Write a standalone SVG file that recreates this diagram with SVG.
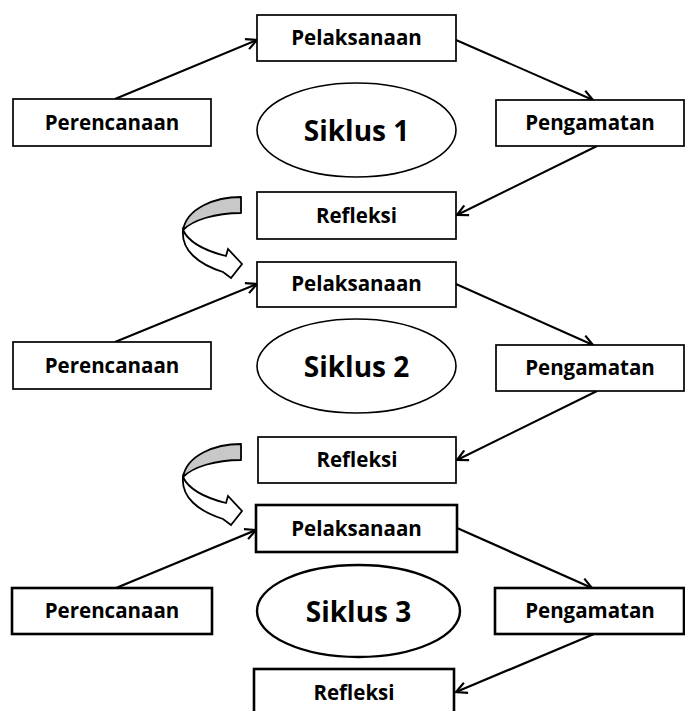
<svg xmlns="http://www.w3.org/2000/svg" width="685" height="711" viewBox="0 0 685 711">
<style>
.bx{fill:#fff;stroke:#000;stroke-width:1.7}
.bx3{fill:#fff;stroke:#000;stroke-width:2.6}
.el{fill:#fff;stroke:#000;stroke-width:1.6}
.el3{fill:#fff;stroke:#000;stroke-width:2.4}
.t{font-family:"Open Sans","Liberation Sans",sans-serif;font-weight:bold;font-size:20.5px;fill:#000;text-anchor:middle}
.ts{font-family:"Open Sans","Liberation Sans",sans-serif;font-weight:bold;font-size:28px;fill:#000;text-anchor:middle}
.ln{fill:none;stroke:#000;stroke-width:2;marker-end:url(#ah)}
.ln3{fill:none;stroke:#000;stroke-width:2.3;marker-end:url(#ah)}
.cg{fill:#c8c8c8;stroke:#000;stroke-width:1.8;stroke-linejoin:round}
.cw{fill:#fff;stroke:#000;stroke-width:1.8;stroke-linejoin:miter}
</style>
<defs>
<marker id="ah" viewBox="0 0 12 12" refX="11" refY="6" markerWidth="13" markerHeight="13" markerUnits="userSpaceOnUse" orient="auto">
<path d="M1,1 L11,6 L1,11" fill="none" stroke="#000" stroke-width="2"/>
</marker>
<g id="curve">
<path class="cg" d="M241,197 C215,197 187,208 183,230 C193,220 215,213 241,213 Z"/>
<path class="cw" d="M183,230 C181,250 198,264 223,272 L231,278 L242,264 L228,249 L226,256 C206,251 189,243 183,230 Z"/>
</g>
</defs>

<g id="connectors">
<line class="ln" x1="115" y1="99" x2="257" y2="40"/>
<line class="ln" x1="456" y1="40" x2="593" y2="100"/>
<line class="ln" x1="597" y1="146" x2="457" y2="215"/>
<line class="ln" x1="115" y1="342" x2="257" y2="284"/>
<line class="ln" x1="456" y1="284" x2="593" y2="345"/>
<line class="ln" x1="597" y1="391" x2="457" y2="460"/>
<line class="ln3" x1="116" y1="588" x2="256" y2="530"/>
<line class="ln3" x1="457" y1="528" x2="592" y2="588"/>
<line class="ln3" x1="594" y1="634" x2="456" y2="692"/>
</g>

<g id="curve1"><use href="#curve"/></g>
<g id="curve2"><use href="#curve" transform="translate(0,247)"/></g>

<g id="pelaksanaan1"><rect class="bx" x="257" y="15" width="199" height="46"/><text class="t" x="356.5" y="45">Pelaksanaan</text></g>
<g id="perencanaan1"><rect class="bx" x="13" y="99" width="198" height="47"/><text class="t" x="112" y="130">Perencanaan</text></g>
<g id="siklus1"><ellipse class="el" cx="356.5" cy="130" rx="99.5" ry="47"/><text class="ts" x="356.5" y="141">Siklus 1</text></g>
<g id="pengamatan1"><rect class="bx" x="496" y="100" width="188" height="46"/><text class="t" x="590" y="130">Pengamatan</text></g>
<g id="refleksi1"><rect class="bx" x="257" y="192" width="199" height="47"/><text class="t" x="356.5" y="223">Refleksi</text></g>

<g id="pelaksanaan2"><rect class="bx" x="257" y="262" width="199" height="45"/><text class="t" x="356.5" y="291">Pelaksanaan</text></g>
<g id="perencanaan2"><rect class="bx" x="13" y="342" width="198" height="47"/><text class="t" x="112" y="373">Perencanaan</text></g>
<g id="siklus2"><ellipse class="el" cx="356.5" cy="366" rx="99.5" ry="47"/><text class="ts" x="356.5" y="377">Siklus 2</text></g>
<g id="pengamatan2"><rect class="bx" x="496" y="345" width="188" height="46"/><text class="t" x="590" y="375">Pengamatan</text></g>
<g id="refleksi2"><rect class="bx" x="258" y="437" width="198" height="46"/><text class="t" x="357" y="467">Refleksi</text></g>

<g id="pelaksanaan3"><rect class="bx3" x="256" y="505" width="201" height="47"/><text class="t" x="356.5" y="536">Pelaksanaan</text></g>
<g id="perencanaan3"><rect class="bx3" x="12" y="588" width="200" height="46"/><text class="t" x="112" y="618">Perencanaan</text></g>
<g id="siklus3"><ellipse class="el3" cx="358.5" cy="611" rx="101.5" ry="46"/><text class="ts" x="358.5" y="622">Siklus 3</text></g>
<g id="pengamatan3"><rect class="bx3" x="495" y="588" width="189" height="46"/><text class="t" x="590" y="618">Pengamatan</text></g>
<g id="refleksi3"><rect class="bx3" x="254" y="669" width="200" height="47"/><text class="t" x="354" y="700">Refleksi</text></g>
</svg>
